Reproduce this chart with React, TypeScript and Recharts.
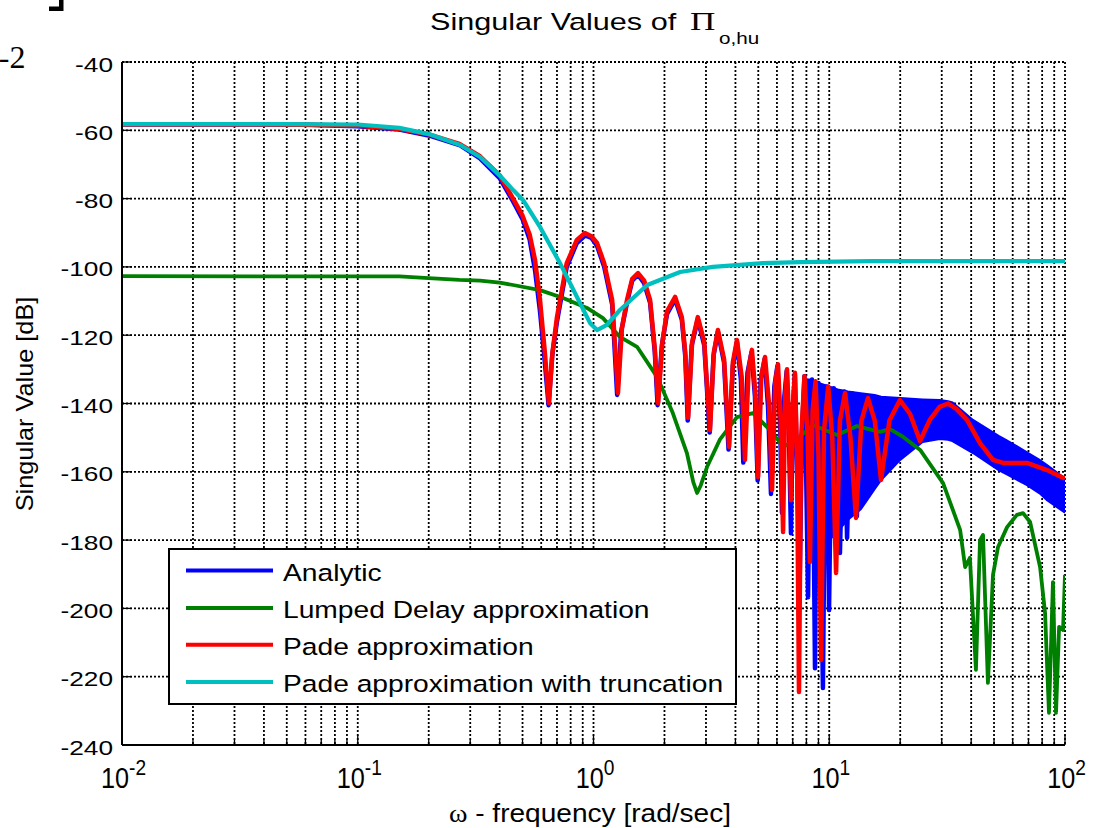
import React from "react";
import { ComposedChart, Line, Area, XAxis, YAxis, CartesianGrid } from "recharts";

const SANS = "'Liberation Sans', Arial, Helvetica, sans-serif";
const SERIF = "'Liberation Serif', 'Times New Roman', serif";

const xTicks = [
  0.01, 0.02, 0.03, 0.04, 0.05, 0.06, 0.07, 0.08, 0.09,
  0.1, 0.2, 0.3, 0.4, 0.5, 0.6, 0.7, 0.8, 0.9,
  1, 2, 3, 4, 5, 6, 7, 8, 9,
  10, 20, 30, 40, 50, 60, 70, 80, 90, 100,
];
const decades = [0.01, 0.1, 1, 10, 100];
const decadeExps = ["-2", "-1", "0", "1", "2"];
const yTicks = [-240, -220, -200, -180, -160, -140, -120, -100, -80, -60, -40];

const legendNames = [
  "Analytic",
  "Lumped Delay approximation",
  "Pade approximation",
  "Pade approximation with truncation",
];
const colors = ["#0000FF", "#008000", "#FF0000", "#00BFBF"];

// [frequency rad/s, dB]
const analyticPts = [
  [0.01, -58.3], [0.03, -58.3], [0.06, -58.4], [0.1, -58.8], [0.15, -59.8], [0.2, -61.5],
  [0.27, -64.3], [0.33, -68.2], [0.4, -74.0], [0.456, -80.8], [0.5, -86], [0.536, -92],
  [0.565, -101], [0.593, -113], [0.62, -127], [0.645, -140.5], [0.668, -126], [0.7, -116],
  [0.77, -100], [0.85, -93], [0.92, -90.8], [0.98, -91.5], [1.035, -93.8], [1.11, -100],
  [1.2, -111], [1.26, -137.5], [1.31, -119], [1.387, -110.5], [1.46, -104], [1.545, -102.3],
  [1.64, -104.8], [1.738, -110.5], [1.82, -125], [1.87, -140.5], [1.95, -123], [2.05, -113.8],
  [2.22, -109.5], [2.37, -115.5], [2.45, -126], [2.51, -145], [2.61, -123], [2.77, -115.3],
  [2.95, -123], [3.11, -148.5], [3.23, -126], [3.37, -119], [3.58, -128], [3.74, -153.5],
  [3.9, -129], [4.06, -122], [4.22, -133], [4.32, -157.3], [4.5, -131], [4.68, -125],
  [4.84, -138], [4.97, -162.5], [5.12, -133], [5.32, -127], [5.5, -141], [5.66, -166.5],
  [5.85, -135], [6.03, -129], [6.2, -148], [6.3, -172], [6.45, -138], [6.6, -130.5],
  [6.75, -150], [6.88, -178], [7.0, -142], [7.15, -131.5], [7.3, -160], [7.5, -190],
  [7.65, -150], [7.85, -132], [8.0, -165], [8.13, -196.7], [8.3, -145], [8.45, -133],
  [8.6, -180], [8.7, -217.5], [8.85, -150], [9.0, -134], [9.2, -180], [9.4, -223.3],
  [9.6, -155], [9.75, -135], [9.88, -170], [9.98, -200.5], [10.2, -150], [10.45, -135.5],
  [10.8, -165], [11.1, -183.8], [11.4, -150], [11.6, -136.5], [11.75, -160], [11.9, -179.4],
  [12.2, -150], [12.5, -137], [12.8, -160], [13.1, -173], [13.4, -150], [13.7, -137.5],
];

// dense ripple of the analytic response: [frequency, lower dB, upper dB]
const analyticBand = [
  [7.8, -150, -133], [8.3, -172, -133], [9.0, -178, -134], [10.0, -180, -135],
  [11.0, -177, -136], [12.0, -174, -136.5], [13.6, -171, -137], [15.6, -165, -137.5],
  [16.6, -162.4, -138], [20, -156.5, -138.4], [24.9, -151.3, -138.8], [29.4, -150.4, -139],
  [31.9, -150.6, -139.3], [33.3, -151, -139.7], [40.7, -154.5, -144.8], [52.3, -159.5, -149.5],
  [56.4, -160.7, -150.7], [69, -163.9, -154.3], [78, -166.3, -156.5], [83.9, -168.3, -158],
  [100, -172, -162],
];

const lumpedPts = [
  [0.01, -102.7], [0.15, -102.8], [0.2, -103.3], [0.27, -103.8], [0.33, -104.0], [0.4, -104.6],
  [0.456, -105.3], [0.593, -106.8], [0.743, -109.1], [0.938, -112.0], [1.097, -115.0],
  [1.295, -120.5], [1.53, -123.4], [1.86, -132.2], [2.17, -142.8], [2.49, -154.5], [2.65, -163],
  [2.75, -166.2], [2.85, -164], [3.03, -158.6], [3.44, -150.5], [4.06, -144], [4.75, -142.8],
  [5.61, -147.8], [6.4, -152.7], [7.5, -149.8], [8.53, -146.3], [10.8, -149.2], [13.1, -146.6],
  [16.4, -148.3], [18.1, -147.5], [20.6, -149.8], [24.3, -153.6], [30.4, -163.3], [35.9, -177.0],
  [37.7, -187.9], [39.5, -185.2], [41.9, -218.0], [43.6, -180.0], [44.9, -178.5], [47.1, -221.8],
  [49.5, -190.2], [52.0, -182.0], [56.8, -176.2], [62.5, -172.6], [66.4, -172.1], [71.1, -174.7],
  [78.4, -187.9], [82.3, -201.3], [85.5, -230.6], [88.9, -192.3], [91.6, -230.6], [94.4, -205.4],
  [98.1, -206.3], [100, -190.2],
];

const padePts = [
  [0.01, -58.3], [0.03, -58.3], [0.06, -58.4], [0.1, -58.7], [0.15, -59.6], [0.2, -61.2],
  [0.27, -64.0], [0.33, -67.6], [0.4, -73.2], [0.456, -80.0], [0.5, -85.0], [0.536, -90.5],
  [0.565, -98], [0.593, -109.7], [0.62, -124], [0.647, -139.9], [0.67, -125], [0.7, -114.7],
  [0.77, -98.9], [0.85, -92.1], [0.92, -90.1], [0.98, -91.0], [1.035, -93.0], [1.11, -98.9],
  [1.2, -109.7], [1.27, -136.9], [1.32, -118], [1.387, -109.7], [1.46, -103.5], [1.545, -101.8],
  [1.64, -104], [1.738, -109.7], [1.82, -124], [1.88, -139.9], [1.96, -122], [2.05, -113],
  [2.22, -108.8], [2.37, -114.7], [2.45, -125], [2.52, -144.2], [2.62, -122], [2.77, -114.7],
  [2.95, -122], [3.12, -147.8], [3.24, -125], [3.37, -118.5], [3.58, -127], [3.76, -152.7],
  [3.9, -128], [4.06, -121.4], [4.25, -132], [4.39, -156.5], [4.55, -130], [4.7, -124.3],
  [4.86, -137], [4.99, -161.5], [5.15, -132], [5.34, -126.4], [5.55, -140], [5.72, -165.3],
  [5.9, -134], [6.06, -128.5], [6.22, -145], [6.37, -177.6], [6.5, -138], [6.62, -130],
  [6.75, -145], [6.88, -168.3], [7.02, -140], [7.15, -131], [7.3, -155], [7.44, -224.5],
  [7.6, -150], [7.85, -132], [8.1, -150], [8.28, -186.4], [8.5, -142], [8.75, -133.5],
  [9.0, -155], [9.23, -215.1], [9.5, -148], [9.9, -135], [10.3, -150], [10.69, -189.6],
  [11.1, -145], [11.67, -136.9], [12.3, -150], [12.98, -173.5], [13.7, -145], [14.59, -138.4],
  [15.6, -145], [16.58, -162.4], [18, -145], [19.95, -139], [22, -143], [24.27, -151],
  [26.7, -144.8], [29.4, -141], [31.9, -140], [34.5, -141.5], [38.4, -144.8], [43.6, -151.6],
  [49.5, -156.5], [54.6, -157.4], [69, -157.4], [83.9, -159.5], [100, -162],
];

const truncPts = [
  [0.01, -58.2], [0.05, -58.2], [0.1, -58.3], [0.15, -59.3], [0.203, -61.2], [0.272, -64.3],
  [0.33, -67.8], [0.4, -73.2], [0.456, -77.5], [0.502, -80.4], [0.593, -88.3], [0.721, -98.9],
  [0.851, -108.8], [0.966, -116.4], [1.035, -118.5], [1.14, -117.0], [1.295, -112.6],
  [1.69, -105.3], [2.33, -101.5], [3.21, -100.0], [5.24, -98.9], [7.5, -98.6], [15, -98.3],
  [100, -98.3],
];

const toRows = (pts: number[][]) => pts.map(([f, db]) => ({ f, db }));
const bandRows = analyticBand.map(([f, lo, hi]) => ({ f, range: [lo, hi] }));

const tickStroke = { stroke: "#000", strokeWidth: 1.3 };

function BottomTick({ x, y, payload }: any) {
  const i = decades.indexOf(payload.value);
  return (
    <g>
      <line x1={x} x2={x} y1={y} y2={y - (i >= 0 ? 10 : 5)} {...tickStroke} />
      {i >= 0 && (
        <text
          transform={`translate(${x + 1.5},${y + 43}) scale(0.87,1)`}
          textAnchor="middle"
          fontFamily={SANS}
          fill="#000"
        >
          <tspan fontSize={29}>10</tspan>
          <tspan fontSize={22} dy={-13}>{decadeExps[i]}</tspan>
        </text>
      )}
    </g>
  );
}

function TopTick({ x, y, payload }: any) {
  const major = decades.includes(payload.value);
  return <line x1={x} x2={x} y1={y} y2={y + (major ? 10 : 5)} {...tickStroke} />;
}

function LeftTick({ x, y, payload }: any) {
  return (
    <g>
      <line x1={x} x2={x + 10} y1={y} y2={y} {...tickStroke} />
      <text
        transform={`translate(${x - 9},${y + 9.5}) scale(1.25,1)`}
        textAnchor="end"
        fontSize={21}
        fontFamily={SANS}
        fill="#000"
      >
        {payload.value}
      </text>
    </g>
  );
}

function RightTick({ x, y }: any) {
  return <line x1={x} x2={x - 10} y1={y} y2={y} {...tickStroke} />;
}

function Overlay() {
  const rowY = [570.5, 608, 644.7, 682];
  return (
    <svg
      width={1097}
      height={828}
      style={{ position: "absolute", left: 0, top: 0, pointerEvents: "none" }}
    >
      {/* corner of the neighbouring figure on the page */}
      <path d="M59 0 H63.5 V11 H49 V6.5 H59 Z" fill="#000" />
      <text x={25.5} y={68} textAnchor="end" fontFamily={SERIF} fontSize={32} fill="#000">-2</text>

      <text transform="translate(430,30) scale(1.25,1)" fontFamily={SANS} fontSize={24.5} fill="#000">
        Singular Values of
      </text>
      <text transform="translate(690,30) scale(1.35,1)" fontFamily={SERIF} fontSize={26} fill="#000">
        Π
      </text>
      <text transform="translate(719,44) scale(1.25,1)" fontFamily={SANS} fontSize={16.5} fill="#000">
        o,hu
      </text>

      <text transform="translate(590,822) scale(1.08,1)" textAnchor="middle" fontFamily={SANS} fontSize={26} fill="#000">
        <tspan fontFamily={SERIF}>ω</tspan> - frequency [rad/sec]
      </text>
      <text transform="translate(33,404) rotate(-90) scale(1.1,1)" textAnchor="middle" fontFamily={SANS} fontSize={23} fill="#000">
        Singular Value [dB]
      </text>

      <rect x={169} y={549} width={567} height={155} fill="#fff" stroke="#000" strokeWidth={2} />
      {legendNames.map((name, i) => (
        <g key={name}>
          <line x1={186} x2={273} y1={rowY[i]} y2={rowY[i]} stroke={colors[i]} strokeWidth={4} />
          <text
            transform={`translate(283,${rowY[i] + 10.2}) scale(1.2,1)`}
            fontFamily={SANS}
            fontSize={23.5}
            fill="#000"
          >
            {name}
          </text>
        </g>
      ))}
    </svg>
  );
}

export default function App() {
  return (
    <div style={{ position: "absolute", left: 0, top: 0, width: 1097, height: 828, background: "#fff" }}>
      <ComposedChart width={1097} height={828} margin={{ top: 62, right: 32, bottom: 0, left: 0 }}>
        <CartesianGrid stroke="#000" strokeWidth={1.8} strokeDasharray="2 2" />
        <XAxis
          dataKey="f"
          type="number"
          scale="log"
          domain={[0.01, 100]}
          allowDataOverflow
          ticks={xTicks}
          interval={0}
          height={83}
          tickSize={0}
          tickMargin={0}
          tickLine={false}
          tick={<BottomTick />}
          axisLine={{ stroke: "#000", strokeWidth: 2 }}
        />
        <XAxis
          xAxisId="top"
          orientation="top"
          dataKey="f"
          type="number"
          scale="log"
          domain={[0.01, 100]}
          allowDataOverflow
          ticks={xTicks}
          interval={0}
          height={0}
          tickSize={0}
          tickMargin={0}
          tickLine={false}
          tick={<TopTick />}
          axisLine={{ stroke: "#000", strokeWidth: 2 }}
        />
        <YAxis
          type="number"
          domain={[-240, -40]}
          allowDataOverflow
          ticks={yTicks}
          interval={0}
          width={122}
          tickSize={0}
          tickMargin={0}
          tickLine={false}
          tick={<LeftTick />}
          axisLine={{ stroke: "#000", strokeWidth: 2 }}
        />
        <YAxis
          yAxisId="right"
          orientation="right"
          type="number"
          domain={[-240, -40]}
          allowDataOverflow
          ticks={yTicks}
          interval={0}
          width={0}
          tickSize={0}
          tickMargin={0}
          tickLine={false}
          tick={<RightTick />}
          axisLine={{ stroke: "#000", strokeWidth: 2 }}
        />
        <Area
          data={bandRows}
          dataKey="range"
          type="linear"
          stroke={colors[0]}
          strokeWidth={2}
          fill={colors[0]}
          fillOpacity={1}
          isAnimationActive={false}
        />
        <Line data={toRows(analyticPts)} dataKey="db" type="linear" stroke={colors[0]} strokeWidth={4.5} strokeLinejoin="round" dot={false} isAnimationActive={false} />
        <Line data={toRows(lumpedPts)} dataKey="db" type="linear" stroke={colors[1]} strokeWidth={3.8} strokeLinejoin="round" dot={false} isAnimationActive={false} />
        <Line data={toRows(padePts)} dataKey="db" type="linear" stroke={colors[2]} strokeWidth={4.5} strokeLinejoin="round" dot={false} isAnimationActive={false} />
        <Line data={toRows(truncPts)} dataKey="db" type="linear" stroke={colors[3]} strokeWidth={4.2} strokeLinejoin="round" dot={false} isAnimationActive={false} />
      </ComposedChart>
      <Overlay />
    </div>
  );
}
